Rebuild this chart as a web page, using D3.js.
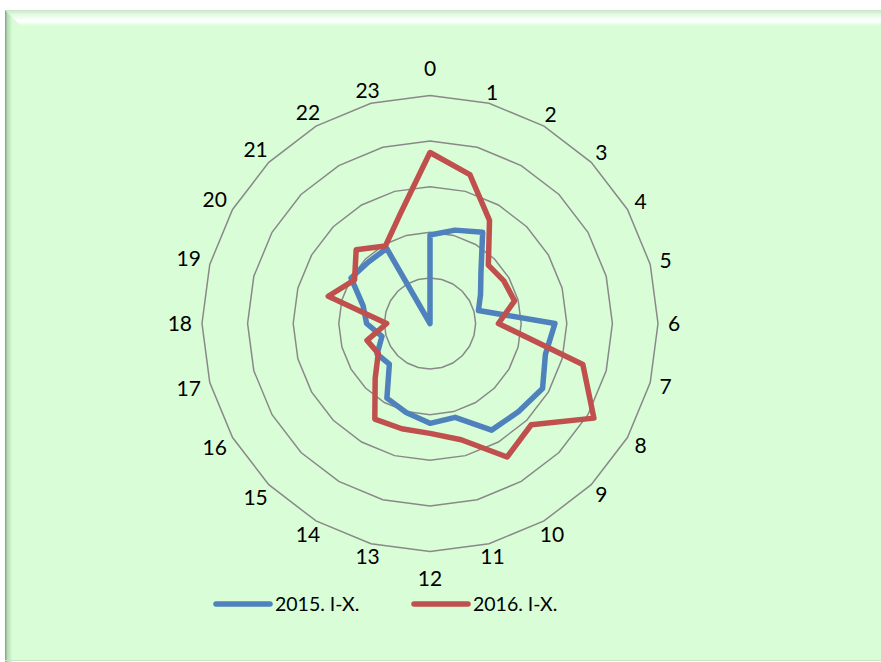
<!DOCTYPE html>
<html>
<head>
<meta charset="utf-8">
<script src="https://cdn.jsdelivr.net/npm/d3@7"></script>
<style>
  html, body { margin: 0; padding: 0; background: #ffffff; }
  svg { display: block; }
  text { font-family: Lato, "Noto Sans", sans-serif; }
</style>
</head>
<body>
<svg id="chart" width="881" height="662"></svg>
<script>
// ---- data ----
const hours = ["0","1","2","3","4","5","6","7","8","9","10","11","12","13","14","15","16","17","18","19","20","21","22","23"];
const values2015 = [1.94, 2.12, 2.31, 1.58, 1.28, 1.10, 2.74, 2.62, 2.85, 2.74, 2.70, 2.13, 2.19, 2.02, 1.89, 1.26, 1.34, 1.09, 1.39, 1.52, 2.00, 1.91, 1.90, 0];
const values2016 = [3.75, 3.38, 2.61, 1.81, 1.87, 1.92, 1.50, 3.47, 4.15, 3.14, 3.38, 2.64, 2.41, 2.39, 2.42, 1.70, 1.31, 1.43, 0.95, 2.31, 1.91, 2.29, 1.96, 2.50];
const seriesNames = ["2015. I-X.", "2016. I-X."];
const seriesColors = ["#4F81BD", "#C0504D"];
const gridLevels = [1, 2, 3, 4, 5];

// ---- layout ----
const W = 881, H = 662;
const cx = 430, cy = 323.5, R = 228;
const svg = d3.select("#chart");

// background panel with bevel
const defs = svg.append("defs");
const gTop = defs.append("linearGradient").attr("id", "bevTop").attr("x1", 0).attr("y1", 0).attr("x2", 0).attr("y2", 1);
gTop.append("stop").attr("offset", "0%").attr("stop-color", "#c9e6c9");
gTop.append("stop").attr("offset", "30%").attr("stop-color", "#e4fbe4");
gTop.append("stop").attr("offset", "70%").attr("stop-color", "#ffffff");
gTop.append("stop").attr("offset", "100%").attr("stop-color", "#daffd8");
const gLeft = defs.append("linearGradient").attr("id", "bevLeft").attr("x1", 0).attr("y1", 0).attr("x2", 1).attr("y2", 0);
gLeft.append("stop").attr("offset", "0%").attr("stop-color", "#7f9f7f");
gLeft.append("stop").attr("offset", "35%").attr("stop-color", "#b6dcb6");
gLeft.append("stop").attr("offset", "100%").attr("stop-color", "#d6fbd4");

svg.append("rect").attr("x", 5).attr("y", 10).attr("width", W - 5).attr("height", H - 11).attr("fill", "#d9fdd7");
svg.append("polygon").attr("points", `5,10 ${W},10 ${W},26 21,26`).attr("fill", "url(#bevTop)");
svg.append("polygon").attr("points", `5,10 12,17 12,${H} 5,${H}`).attr("fill", "url(#bevLeft)");
svg.append("line").attr("x1", 5).attr("x2", W).attr("y1", H - 1.5).attr("y2", H - 1.5).attr("stroke", "#c4e6c2").attr("stroke-width", 1);

// scales
const angle = d3.scalePoint().domain(hours).range([0, 2 * Math.PI * (hours.length - 1) / hours.length]);
const radius = d3.scaleLinear().domain([0, 5]).range([0, R]);

const g = svg.append("g").attr("transform", `translate(${cx},${cy})`);

// grid rings (24-gons)
const ringLine = d3.lineRadial().angle(h => angle(h)).curve(d3.curveLinearClosed);
g.selectAll("path.ring").data(gridLevels).join("path")
  .attr("class", "ring")
  .attr("d", lvl => ringLine.radius(() => radius(lvl))(hours))
  .attr("fill", "none")
  .attr("stroke", "#898989")
  .attr("stroke-width", 1.5);

// series
const series = [values2015, values2016].map((vals, i) => ({ name: seriesNames[i], color: seriesColors[i], vals }));
const seriesLine = d3.lineRadial()
  .angle((d, i) => angle(hours[i]))
  .radius(d => radius(d))
  .curve(d3.curveLinearClosed);
g.selectAll("path.series").data(series).join("path")
  .attr("class", "series")
  .attr("d", s => seriesLine(s.vals))
  .attr("fill", "none")
  .attr("stroke", s => s.color)
  .attr("stroke-width", 5.5)
  .attr("stroke-linejoin", "round");

// category labels
const fs = 21;
const labels = g.selectAll("text.cat").data(hours).join("text")
  .attr("class", "cat")
  .attr("font-size", fs)
  .attr("fill", "#000")
  .attr("text-anchor", "middle")
  .text(d => d);
labels.each(function (d) {
  const a = angle(d);
  const hw = this.getComputedTextLength() / 2;
  const s = Math.sin(a), c = Math.cos(a);
  let r = 238 + hw * Math.abs(s) + (Math.abs(c) > 0.99 ? 17 : 0);
  const x = r * s, y = -r * c;
  d3.select(this).attr("x", x).attr("y", y + fs * 0.36);
});

// legend
const legendY = 604, legendX0 = 216, legendStep = 198, lineLen = 54;
const leg = svg.selectAll("g.legend").data(series).join("g")
  .attr("class", "legend")
  .attr("transform", (d, i) => `translate(${legendX0 + i * legendStep},${legendY})`);
leg.append("line").attr("x1", 0).attr("x2", lineLen).attr("y1", 0).attr("y2", 0)
  .attr("stroke", d => d.color).attr("stroke-width", 5.5).attr("stroke-linecap", "round");
leg.append("text").attr("x", lineLen + 5).attr("y", 7).attr("font-size", 19.5).attr("fill", "#000")
  .text(d => d.name);
</script>
</body>
</html>
